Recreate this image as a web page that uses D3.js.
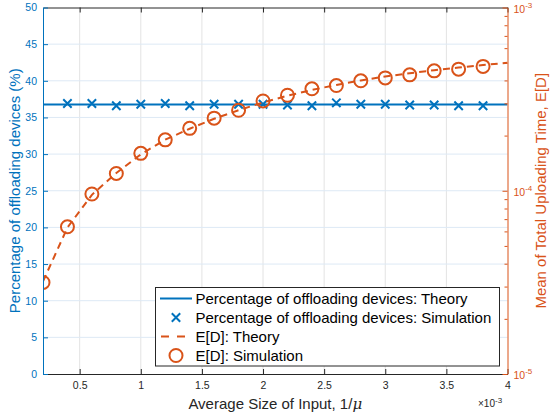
<!DOCTYPE html>
<html><head><meta charset="utf-8">
<script src="https://cdn.jsdelivr.net/npm/d3@7"></script>
<style>body{margin:0;background:#fff}text{font-family:"Liberation Sans",Arial,Helvetica,sans-serif}</style>
</head><body><svg id="c" width="553" height="415"></svg>
<script>
// x values in units of 1e-3
const xSim = [0.2,0.4,0.6,0.8,1.0,1.2,1.4,1.6,1.8,2.0,2.2,2.4,2.6,2.8,3.0,3.2,3.4,3.6,3.8];
const xPct = [0.4,0.6,0.8,1.0,1.2,1.4,1.6,1.8,2.0,2.2,2.4,2.6,2.8,3.0,3.2,3.4,3.6,3.8];
const pctSim = [36.9,36.9,36.6,36.8,36.9,36.6,36.8,36.8,36.8,36.7,36.6,37.0,36.8,36.8,36.7,36.7,36.6,36.6];
const xTheoryPct = [0.2,4.0];
const pctTheory = [36.77,36.77];
const edSim = [3.16e-5,6.36e-5,9.6e-5,1.243e-4,1.60e-4,1.896e-4,2.19e-4,2.49e-4,2.75e-4,3.09e-4,3.32e-4,3.60e-4,3.75e-4,3.98e-4,4.13e-4,4.29e-4,4.51e-4,4.61e-4,4.77e-4];
const xTheoryED = [0.2,0.4,0.6,0.8,1.0,1.2,1.4,1.6,1.8,2.0,2.2,2.4,2.6,2.8,3.0,3.2,3.4,3.6,3.8,4.0];
const edTheory = [3.2e-5,6.3e-5,9.5e-5,1.25e-4,1.58e-4,1.9e-4,2.18e-4,2.47e-4,2.75e-4,3.03e-4,3.3e-4,3.55e-4,3.78e-4,4.0e-4,4.2e-4,4.38e-4,4.55e-4,4.7e-4,4.85e-4,5.0e-4];
const xTicks = [0.5,1,1.5,2,2.5,3,3.5,4];
const xTickLabels = ["0.5","1","1.5","2","2.5","3","3.5","4"];
const yLTicks = [0,5,10,15,20,25,30,35,40,45,50];
const yRTicks = [1e-5,1e-4,1e-3];
const yRTickExp = ["-5","-4","-3"];
const legendLabels = ["Percentage of offloading devices: Theory","Percentage of offloading devices: Simulation","E[D]: Theory","E[D]: Simulation"];

const BLUE="#0072BD", ORANGE="#D95319", DARK="#262626";
const L=43, R=507.5, T=7.5, B=374;
const svg=d3.select("#c");
const x=d3.scaleLinear([0.2,4],[L,R]);
const yL=d3.scaleLinear([0,50],[B,T]);
const yR=d3.scaleLog([1e-5,1e-3],[B,T]);

svg.append("rect").attr("x",L).attr("y",T).attr("width",R-L).attr("height",B-T).attr("fill","#fff");
// grid
const g=svg.append("g");
g.selectAll(".vg").data(xTicks.filter(d=>d<4)).join("line")
 .attr("x1",d=>x(d)).attr("x2",d=>x(d)).attr("y1",T).attr("y2",B)
 .attr("stroke","#e3e3e3").attr("stroke-width",1);
g.selectAll(".hg").data(yLTicks.filter(d=>d>0&&d<50)).join("line")
 .attr("x1",L).attr("x2",R).attr("y1",d=>yL(d)).attr("y2",d=>yL(d))
 .attr("stroke","#dde9f5").attr("stroke-width",1);

// clip
svg.append("clipPath").attr("id","clip").append("rect").attr("x",L).attr("y",T).attr("width",R-L).attr("height",B-T);
const p=svg.append("g").attr("clip-path","url(#clip)");

// blue theory line
p.append("path").datum(xTheoryPct.map((d,i)=>[d,pctTheory[i]]))
 .attr("d",d3.line().x(d=>x(d[0])).y(d=>yL(d[1])))
 .attr("fill","none").attr("stroke",BLUE).attr("stroke-width",2);
// blue X markers
function cross(sel,s){sel.append("path").attr("d",`M${-s},${-s}L${s},${s}M${-s},${s}L${s},${-s}`).attr("stroke",BLUE).attr("stroke-width",2).attr("fill","none");}
p.selectAll(".xm").data(xPct.map((d,i)=>[d,pctSim[i]])).join("g")
 .attr("transform",d=>`translate(${x(d[0])},${yL(d[1])})`).each(function(){cross(d3.select(this),4.2);});

// orange dashed theory
p.append("path").datum(xTheoryED.map((d,i)=>[d,edTheory[i]]))
 .attr("d",d3.line().x(d=>x(d[0])).y(d=>yR(d[1])))
 .attr("fill","none").attr("stroke",ORANGE).attr("stroke-width",2).attr("stroke-dasharray","7,5");
// orange circles
p.selectAll(".cm").data(xSim.map((d,i)=>[d,edSim[i]])).join("circle")
 .attr("cx",d=>x(d[0])).attr("cy",d=>yR(d[1])).attr("r",6.5)
 .attr("fill","none").attr("stroke",ORANGE).attr("stroke-width",2);

// axes
const ax=svg.append("g").attr("transform",`translate(0,${B})`)
 .call(d3.axisBottom(x).tickValues(xTicks).tickFormat((d,i)=>xTickLabels[i]).tickSize(-5).tickPadding(8).tickSizeOuter(0));
ax.select(".domain").attr("stroke",DARK).attr("stroke-width",1);
ax.selectAll(".tick line").attr("stroke",DARK);
ax.selectAll("text").attr("fill",DARK).attr("font-size",10.5).style("font-family","Liberation Sans, Arial, sans-serif");
const axT=svg.append("g").attr("transform",`translate(0,${T})`)
 .call(d3.axisTop(x).tickValues(xTicks).tickFormat("").tickSize(-5).tickSizeOuter(0));
axT.select(".domain").attr("stroke",DARK);
axT.selectAll(".tick line").attr("stroke",DARK);

const ayL=svg.append("g").attr("transform",`translate(${L},0)`)
 .call(d3.axisLeft(yL).tickValues(yLTicks).tickFormat(d3.format("d")).tickSize(-5).tickPadding(6).tickSizeOuter(0));
ayL.select(".domain").attr("stroke",BLUE).attr("stroke-width",1);
ayL.selectAll(".tick line").attr("stroke",BLUE);
ayL.selectAll("text").attr("fill",BLUE).attr("font-size",10.5).style("font-family","Liberation Sans, Arial, sans-serif");

const ayR=svg.append("g").attr("transform",`translate(${R},0)`)
 .call(d3.axisRight(yR).tickSize(-5).tickFormat("").tickSizeOuter(0));
ayR.select(".domain").attr("stroke",ORANGE).attr("stroke-width",1);
ayR.selectAll(".tick line").attr("stroke",ORANGE).attr("x2",d=>yRTicks.includes(d)?-5:-3);
ayR.selectAll(".lab").data(yRTicks).join("text").attr("class","lab")
 .attr("x",6).attr("y",d=>yR(d)+5).attr("fill",ORANGE).attr("font-size",10.5)
 .each(function(d,i){const t=d3.select(this);t.append("tspan").text("10");
   t.append("tspan").attr("dy",-5).attr("font-size",8).text(yRTickExp[i]);});

// axis labels
svg.append("text").attr("transform",`translate(19.5,${(T+B)/2}) rotate(-90)`).attr("text-anchor","middle")
 .attr("fill",BLUE).attr("font-size",15).text("Percentage of offloading devices (%)");
svg.append("text").attr("transform",`translate(546,${(T+B)/2}) rotate(-90)`).attr("text-anchor","middle")
 .attr("fill",ORANGE).attr("font-size",15).text("Mean of Total Uploading Time, E[D]");
const xl=svg.append("text").attr("x",(L+R)/2).attr("y",409).attr("text-anchor","middle").attr("fill",DARK).attr("font-size",15);
xl.append("tspan").text("Average Size of Input, 1/");
xl.append("tspan").attr("font-family","DejaVu Serif, serif").attr("font-style","italic").text("μ");
const ex=svg.append("text").attr("x",478).attr("y",407).attr("fill",DARK).attr("font-size",10);
ex.append("tspan").text("×10");
ex.append("tspan").attr("dy",-4).attr("font-size",8).text("-3");

// legend
const lg=svg.append("g");
lg.append("rect").attr("x",155.5).attr("y",287.5).attr("width",344).attr("height",78.5).attr("fill","#fff").attr("stroke",DARK).attr("stroke-width",1);
const rowY=[298.5,317.5,336.5,355.5];
legendLabels.forEach((t,i)=>{
  lg.append("text").attr("x",195.5).attr("y",rowY[i]+5.5).attr("fill","#000").attr("font-size",15).text(t);
});
lg.append("line").attr("x1",160).attr("x2",192).attr("y1",rowY[0]).attr("y2",rowY[0]).attr("stroke",BLUE).attr("stroke-width",2);
cross(lg.append("g").attr("transform",`translate(176,${rowY[1]})`),4.2);
lg.append("line").attr("x1",160).attr("x2",192).attr("y1",rowY[2]).attr("y2",rowY[2]).attr("stroke",ORANGE).attr("stroke-width",2).attr("stroke-dasharray","8,8").attr("stroke-dashoffset",-1);
lg.append("circle").attr("cx",176).attr("cy",rowY[3]).attr("r",6.5).attr("fill","none").attr("stroke",ORANGE).attr("stroke-width",2);
</script></body></html>
